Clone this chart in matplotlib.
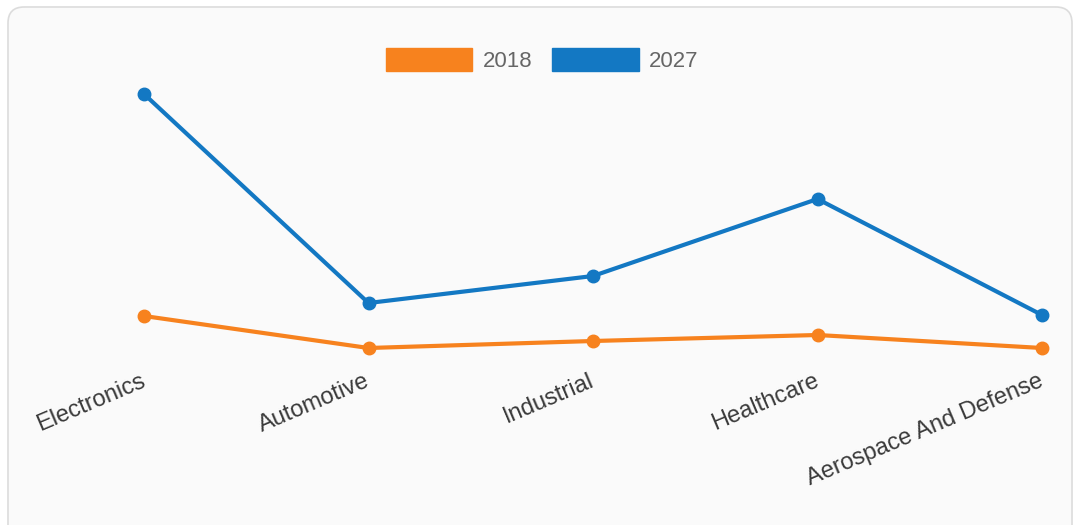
import matplotlib
matplotlib.use('Agg')
import matplotlib.pyplot as plt
import matplotlib.transforms as mtransforms
from matplotlib.patches import FancyBboxPatch, Patch

W, H = 1075, 525

categories = ['Electronics', 'Automotive', 'Industrial', 'Healthcare',
              'Aerospace And Defense']
years = ['2018', '2027']
values_2018 = [5.4, 2.2, 2.9, 3.5, 2.2]
values_2027 = [27.6, 6.7, 9.4, 17.1, 5.5]
colors = ['#f7821e', '#1378c3']

fig = plt.figure(figsize=(W / 100, H / 100), dpi=100, facecolor='white')

# rounded card behind the chart
card = FancyBboxPatch((8 / W, -20 / H), (1064 / W), (H + 13) / H,
                      boxstyle='round,pad=0,rounding_size=0.015',
                      transform=fig.transFigure, facecolor='#fafafa',
                      edgecolor='#dcdcdc', linewidth=1.2, zorder=-1,
                      mutation_aspect=W / H)
fig.patches.append(card)

# axes placed so categories land on the reference pixel columns
x0, x1 = 144, 1042
ytop, ybot = 80, 370
ax = fig.add_axes([x0 / W, 1 - ybot / H, (x1 - x0) / W, (ybot - ytop) / H])
ax.set_facecolor('none')
ax.set_xlim(0, len(categories) - 1)
ax.set_ylim(0, 29)

xs = list(range(len(categories)))
for vals, c in zip([values_2018, values_2027], colors):
    ax.plot(xs, vals, color=c, lw=3, marker='o', ms=9, clip_on=False,
            solid_capstyle='round')

for s in ax.spines.values():
    s.set_visible(False)
ax.set_yticks([])
ax.set_xticks(xs)
ax.set_xticklabels(categories, rotation=23, ha='right', va='top',
                   rotation_mode='anchor', fontsize=17, color='#3a3a3a',
                   family='Liberation Sans')
ax.tick_params(axis='x', length=0, pad=0)
shift = mtransforms.ScaledTranslation(-4 / 100, 0, fig.dpi_scale_trans)
for lbl in ax.get_xticklabels():
    lbl.set_transform(lbl.get_transform() + shift)

handles = [Patch(facecolor=c, edgecolor=c, label=y) for y, c in zip(years, colors)]
fig.legend(handles=handles, loc='center', ncol=2, frameon=False,
           bbox_to_anchor=(542 / W, 1 - 60 / H),
           prop={'family': 'Liberation Sans', 'size': 16},
           labelcolor='#666666', handlelength=3.9, handleheight=1.25,
           handletextpad=0.45, columnspacing=0.9)

fig.savefig('out.png', dpi=100, facecolor='white')
